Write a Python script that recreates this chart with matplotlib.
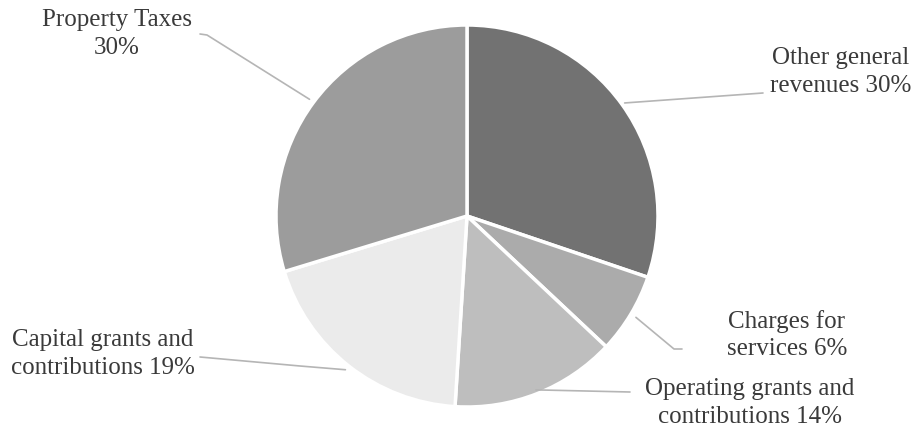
import matplotlib
matplotlib.use("Agg")
import matplotlib.pyplot as plt
import numpy as np

categories = ["Other general revenues", "Charges for services",
              "Operating grants and contributions", "Capital grants and contributions",
              "Property Taxes"]
shares = [30.2, 6.8, 14.0, 19.3, 29.7]
label_texts = ["Other general\nrevenues 30%", "Charges for\nservices 6%",
               "Operating grants and\ncontributions 14%",
               "Capital grants and\ncontributions 19%", "Property Taxes\n30%"]
colors = ["#727272", "#ababab", "#bebebe", "#ebebeb", "#9c9c9c"]

W, H = 915, 431
fig = plt.figure(figsize=(W / 100, H / 100), dpi=100)
ax = fig.add_axes([0, 0, 1, 1])

cx, cy, R = 467, H - 217, 191
wedges, _ = ax.pie(shares, startangle=90, counterclock=False, colors=colors,
                   center=(cx, cy), radius=R,
                   wedgeprops=dict(edgecolor="white", linewidth=2.5))
ax.set_xlim(0, W)
ax.set_ylim(0, H)
ax.set_aspect("equal")
ax.axis("off")

# label centers (pixel coords from top) and leader end points
label_pos = [(841, 72), (787, 335), (750, 403), (103, 354), (117, 34)]
leader_end = [[(763, 94)], [(674, 350), (682, 350)], [(630, 393)],
              [(300, 367), (200, 358)], [(207, 36), (200, 35)]]
leader_r = [194, 197, 187, 196, 196]

for w, txt, (lx, ly), ends, lr in zip(wedges, label_texts, label_pos, leader_end, leader_r):
    ang = np.deg2rad((w.theta1 + w.theta2) / 2)
    sx, sy = cx + lr * np.cos(ang), cy + lr * np.sin(ang)
    xs = [sx] + [e[0] for e in ends]
    ys = [sy] + [H - e[1] for e in ends]
    ax.plot(xs, ys, color="#b5b5b5", lw=1.2, solid_capstyle="round", zorder=1)
    ax.text(lx, H - ly, txt, ha="center", va="center", fontsize=18,
            family="Liberation Serif", color="#3a3a3a", linespacing=1.3)

fig.savefig("out.png", dpi=100)
